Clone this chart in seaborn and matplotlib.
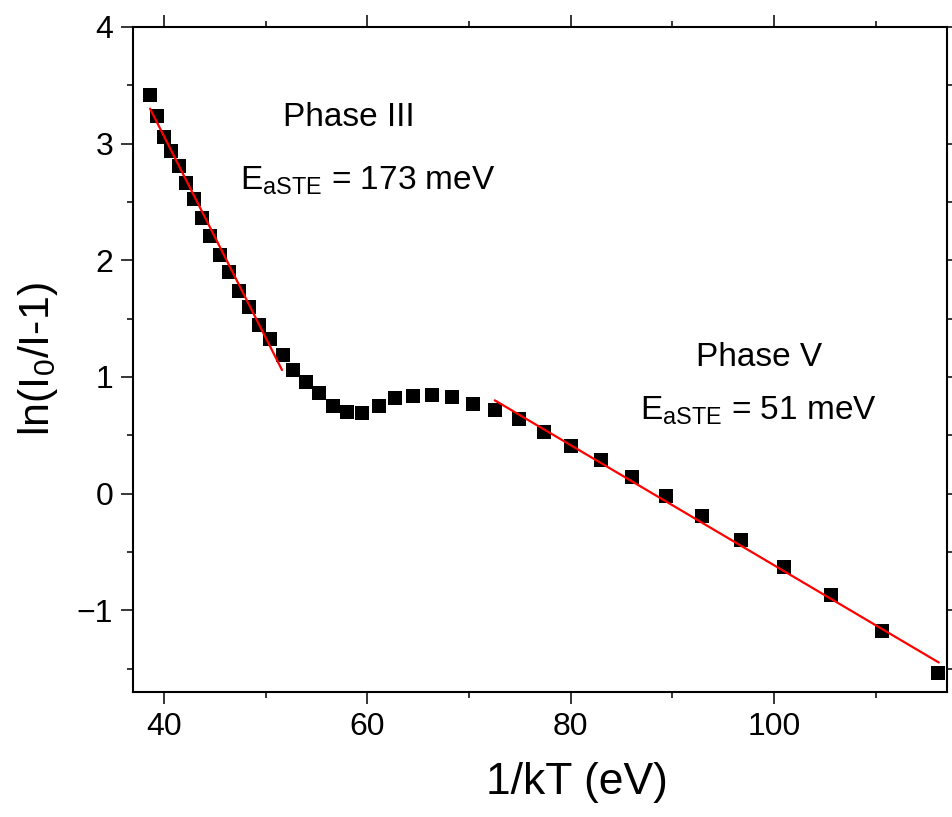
import numpy as np
import pandas as pd
import matplotlib
matplotlib.use("Agg")
import matplotlib.pyplot as plt
import seaborn as sns
from matplotlib.ticker import MultipleLocator

# ---- data ----
inv_kT = [38.65, 39.37, 40.03, 40.75, 41.47, 42.19, 42.98, 43.76, 44.55, 45.53,
          46.39, 47.37, 48.35, 49.39, 50.44, 51.67, 52.73, 53.98, 55.28, 56.66,
          58.04, 59.51, 61.12, 62.75, 64.52, 66.33, 68.29, 70.35, 72.54, 74.93,
          77.39, 80.08, 82.96, 86.00, 89.34, 92.91, 96.78, 100.96, 105.62, 110.63,
          116.13]
ln_ratio = [3.42, 3.24, 3.06, 2.94, 2.81, 2.66, 2.53, 2.36, 2.21, 2.05,
            1.90, 1.74, 1.60, 1.45, 1.33, 1.19, 1.06, 0.96, 0.86, 0.75,
            0.70, 0.69, 0.75, 0.82, 0.84, 0.85, 0.83, 0.77, 0.72, 0.64,
            0.53, 0.41, 0.29, 0.14, -0.02, -0.19, -0.40, -0.63, -0.87, -1.18,
            -1.54]

fit3_x = [38.65, 51.62]
fit3_y = [3.30, 1.06]
fit5_x = [72.54, 116.19]
fit5_y = [0.80, -1.447]

label3 = ["Phase III", r"E$_{\mathregular{aSTE}}$ = 173 meV"]
label5 = ["Phase V", r"E$_{\mathregular{aSTE}}$ = 51 meV"]

# ---- style ----
sns.set_style("ticks")
plt.rcParams["font.family"] = ["Liberation Sans", "DejaVu Sans"]
plt.rcParams["mathtext.fontset"] = "custom"
plt.rcParams["mathtext.rm"] = "Liberation Sans"
plt.rcParams["mathtext.it"] = "Liberation Sans:italic"
plt.rcParams["mathtext.bf"] = "Liberation Sans:bold"
plt.rcParams["text.color"] = "black"
plt.rcParams["axes.labelcolor"] = "black"
plt.rcParams["xtick.color"] = "black"
plt.rcParams["ytick.color"] = "black"

fig = plt.figure(figsize=(9.53, 8.17), dpi=100)
ax = fig.add_axes([133.3 / 953, 1 - 692 / 817, (947 - 133.3) / 953, (692 - 27) / 817])

df = pd.DataFrame({"x": inv_kT, "y": ln_ratio})
sns.scatterplot(data=df, x="x", y="y", marker="s", s=110, color="black",
                linewidth=0, ax=ax, zorder=2)
sns.lineplot(x=fit3_x, y=fit3_y, color="red", linewidth=1.6, ax=ax, zorder=3)
sns.lineplot(x=fit5_x, y=fit5_y, color="red", linewidth=1.6, ax=ax, zorder=3)

ax.set_xlim(37.0, 117.0)
ax.set_ylim(-1.70, 4.0)
ax.xaxis.set_major_locator(MultipleLocator(20))
ax.xaxis.set_minor_locator(MultipleLocator(10))
ax.yaxis.set_major_locator(MultipleLocator(1))
ax.yaxis.set_minor_locator(MultipleLocator(0.5))

for s in ax.spines.values():
    s.set_linewidth(1.5)
    s.set_color("black")
ax.tick_params(which="major", direction="out", length=8.5, width=1.1,
               labelsize=23, top=True, right=True, labeltop=False, labelright=False,
               pad=6)
ax.tick_params(which="minor", direction="out", length=4, width=1.1,
               top=True, right=True)

ax.set_xlabel("1/kT (eV)", fontsize=32, labelpad=8)
ax.set_ylabel(r"ln(I$_{\mathregular{0}}$/I-1)", fontsize=31, labelpad=12)
ax.xaxis.set_label_coords(0.545, -0.105)

fs = 24
ax.text(51.72, 3.15, label3[0], fontsize=fs, ha="left", va="baseline")
ax.text(47.5, 2.61, label3[1], fontsize=fs, ha="left", va="baseline")
ax.text(92.36, 1.09, label5[0], fontsize=fs, ha="left", va="baseline")
ax.text(86.79, 0.635, label5[1], fontsize=fs, ha="left", va="baseline")

fig.savefig("out.png", dpi=100, facecolor="white")
